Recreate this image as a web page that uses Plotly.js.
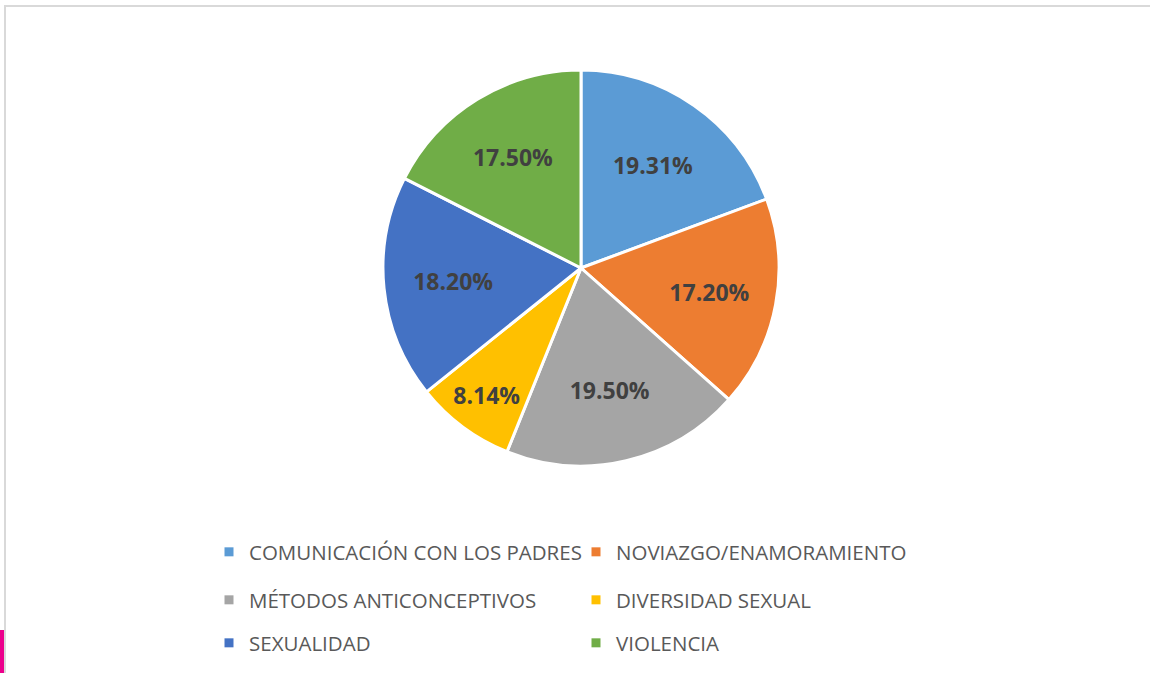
<!DOCTYPE html>
<html>
<head>
<meta charset="utf-8">
<script src="https://cdn.plot.ly/plotly-3.0.1.min.js"></script>
<style>
  html, body { margin: 0; padding: 0; background: #fff; }
  #chart { width: 1150px; height: 673px; }
</style>
</head>
<body>
<div id="chart"></div>
<script>
// Data
const temas = [
    "COMUNICACIÓN CON LOS PADRES",
    "NOVIAZGO/ENAMORAMIENTO",
    "MÉTODOS ANTICONCEPTIVOS",
    "DIVERSIDAD SEXUAL",
    "SEXUALIDAD",
    "VIOLENCIA"
];
const porcentajes = [19.31, 17.20, 19.50, 8.14, 18.20, 17.50];
const colores = ["#5B9BD5", "#ED7D31", "#A5A5A5", "#FFC000", "#4472C4", "#70AD47"];

// Legend rows (two entries per row, like the original)
const filaLeyenda = ["legend", "legend", "legend2", "legend2", "legend3", "legend3"];

const W = 1150, H = 673;

var pie = {
    type: 'pie',
    labels: temas,
    values: porcentajes,
    sort: false,
    direction: 'clockwise',
    rotation: 0,
    marker: { colors: colores, line: { color: '#ffffff', width: 3 } },
    texttemplate: '%{value:.2f}%',
    textposition: 'inside',
    insidetextorientation: 'horizontal',
    textfont: { family: 'Open Sans', size: 23, color: '#404040', weight: 'bold' },
    hoverinfo: 'label+value',
    showlegend: false,
    domain: {
        x: [(581 - 198) / W, (581 + 198) / W],
        y: [1 - 466 / H, 1 - 70 / H]
    }
};

// legend-only entries, one per category
var data = [pie];
for (let i = 0; i < temas.length; i++) {
    data.push({
        type: 'scatter',
        mode: 'markers',
        x: [null],
        y: [null],
        name: temas[i],
        legend: filaLeyenda[i],
        marker: { symbol: 'square', size: 9, color: colores[i] },
        hoverinfo: 'skip'
    });
}

function leyenda(yPix) {
    return {
        orientation: 'h',
        x: 209 / W,
        xanchor: 'left',
        y: 1 - yPix / H,
        yanchor: 'middle',
        entrywidth: 322,
        entrywidthmode: 'pixels',
        font: { family: 'Open Sans', size: 20.5, color: '#595959' },
        bgcolor: 'rgba(0,0,0,0)',
        itemclick: false,
        itemdoubleclick: false
    };
}

var layout = {
    width: W,
    height: H,
    margin: { l: 0, r: 0, t: 0, b: 0 },
    paper_bgcolor: '#ffffff',
    plot_bgcolor: '#ffffff',
    xaxis: { visible: false },
    yaxis: { visible: false },
    legend: leyenda(552),
    legend2: leyenda(600),
    legend3: leyenda(643),
    shapes: [
        // chart area border (top and left edges visible)
        { type: 'rect', xref: 'paper', yref: 'paper',
          x0: 5 / W, x1: 1.02, y0: -0.02, y1: 1 - 6 / H,
          line: { color: '#d9d9d9', width: 2 }, fillcolor: 'rgba(0,0,0,0)', layer: 'below' },
        // magenta strip at bottom-left
        { type: 'rect', xref: 'paper', yref: 'paper',
          x0: 0, x1: 4 / W, y0: 0, y1: 1 - 630 / H,
          line: { width: 0 }, fillcolor: '#EC008C' }
    ]
};

Plotly.newPlot('chart', data, layout, { displayModeBar: false, staticPlot: false });
</script>
</body>
</html>
